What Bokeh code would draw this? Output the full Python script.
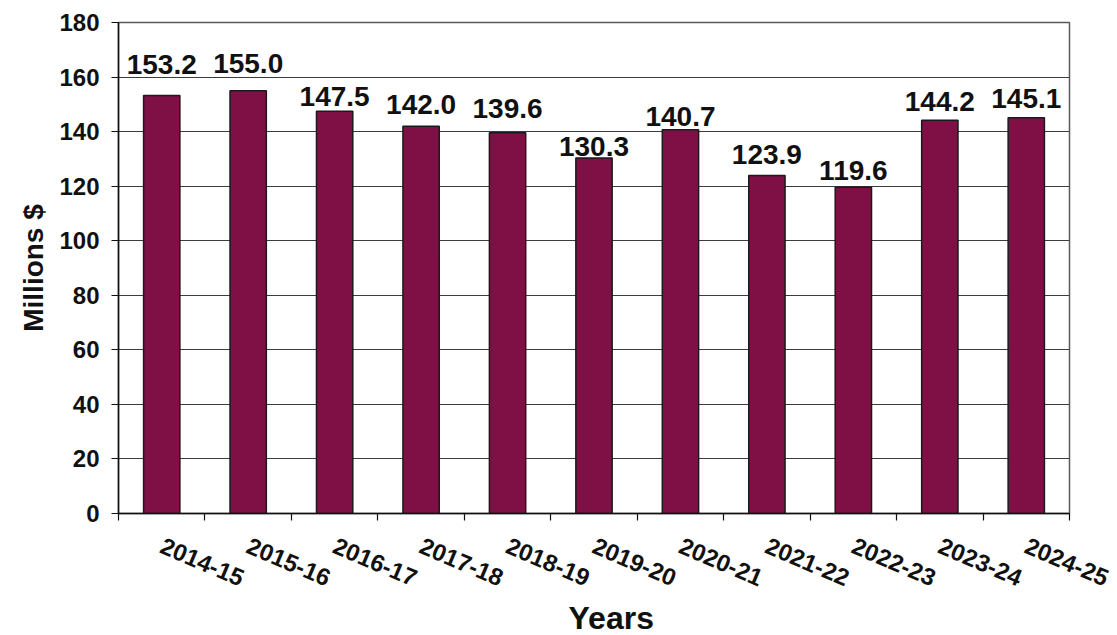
from bokeh.plotting import figure
from bokeh.models import FixedTicker, Range1d, Title, ColumnDataSource
from bokeh.core.properties import value
from bokeh.embed import file_html
from bokeh.resources import INLINE

# Annual amounts, millions of dollars
years = ["2014-15", "2015-16", "2016-17", "2017-18", "2018-19", "2019-20",
         "2020-21", "2021-22", "2022-23", "2023-24", "2024-25"]
amounts = [153.2, 155.0, 147.5, 142.0, 139.6, 130.3, 140.7, 123.9, 119.6, 144.2, 145.1]
y_ticks = [0, 20, 40, 60, 80, 100, 120, 140, 160, 180]

# Pixel lift of each value label above its bar
label_lift = [21, 17, 5, 12, 14, 2, 3, 11, 7, 9, 9]
BASELINE_FIX = 10  # glyph baseline sits a little low in the svg output

FONT = "Liberation Sans"
BAR = "#7F1046"

centers = [i + 0.5 for i in range(len(years))]
edges = [float(i) for i in range(len(years) + 1)]

src = ColumnDataSource(dict(
    x=centers,
    top=amounts,
    label=[f"{v:.1f}" for v in amounts],
    lift=[-(d + BASELINE_FIX) for d in label_lift],
))

p = figure(width=1117, height=635,
           x_range=Range1d(0, len(years)), y_range=Range1d(0, 180),
           output_backend="svg", toolbar_location=None,
           min_border_left=118, min_border_right=48,
           min_border_top=22, min_border_bottom=122,
           background_fill_color="white", border_fill_color="white")

p.outline_line_color = "#5a5a5a"
p.outline_line_width = 1.5

p.vbar(x="x", top="top", bottom=0, width=0.42, source=src,
       fill_color=BAR, line_color="#1a1a1a", line_width=1.5)

p.text(x="x", y="top", text="label", source=src,
       y_offset="lift", text_align="center", text_baseline="alphabetic",
       text_font=value(FONT), text_font_style="bold", text_font_size="28px",
       text_color="#111111")

# Horizontal gridlines only
p.xgrid.visible = False
p.ygrid.grid_line_color = "#3c3c3c"
p.ygrid.grid_line_width = 1.2
p.ygrid.ticker = FixedTicker(ticks=y_ticks)

# Y axis
p.yaxis.ticker = FixedTicker(ticks=y_ticks)
p.yaxis.axis_line_color = "#111111"
p.yaxis.axis_line_width = 1.5
p.yaxis.major_tick_in = 0
p.yaxis.major_tick_out = 7
p.yaxis.major_tick_line_color = "#111111"
p.yaxis.major_tick_line_width = 1.2
p.yaxis.minor_tick_line_color = None
p.yaxis.major_label_standoff = 12
p.yaxis.major_label_text_font = FONT
p.yaxis.major_label_text_font_style = "bold"
p.yaxis.major_label_text_font_size = "24px"
p.yaxis.major_label_text_color = "#111111"
p.yaxis.axis_label = "Millions $"
p.yaxis.axis_label_text_font = FONT
p.yaxis.axis_label_text_font_style = "bold"
p.yaxis.axis_label_text_font_size = "28px"
p.yaxis.axis_label_text_color = "#111111"
p.yaxis.axis_label_standoff = 7

# X axis: labels at bar centres, tick marks between categories
p.xaxis.ticker = FixedTicker(ticks=centers, minor_ticks=edges)
p.xaxis.major_label_overrides = {c: y for c, y in zip(centers, years)}
p.xaxis.major_tick_line_color = None
p.xaxis.major_tick_in = 0
p.xaxis.major_tick_out = 0
p.xaxis.minor_tick_in = 0
p.xaxis.minor_tick_out = 7
p.xaxis.minor_tick_line_color = "#111111"
p.xaxis.minor_tick_line_width = 1.2
p.xaxis.axis_line_color = "#111111"
p.xaxis.axis_line_width = 1.5
p.xaxis.major_label_orientation = -0.4
p.xaxis.major_label_standoff = 24
p.xaxis.major_label_text_font = FONT
p.xaxis.major_label_text_font_style = "bold"
p.xaxis.major_label_text_font_size = "24px"
p.xaxis.major_label_text_color = "#111111"

p.add_layout(Title(text="Years", align="left", offset=450,
                   text_font=FONT, text_font_style="bold",
                   text_font_size="32px", text_color="#111111",
                   standoff=0), "below")

open("out.html", "w").write(file_html(p, INLINE))
